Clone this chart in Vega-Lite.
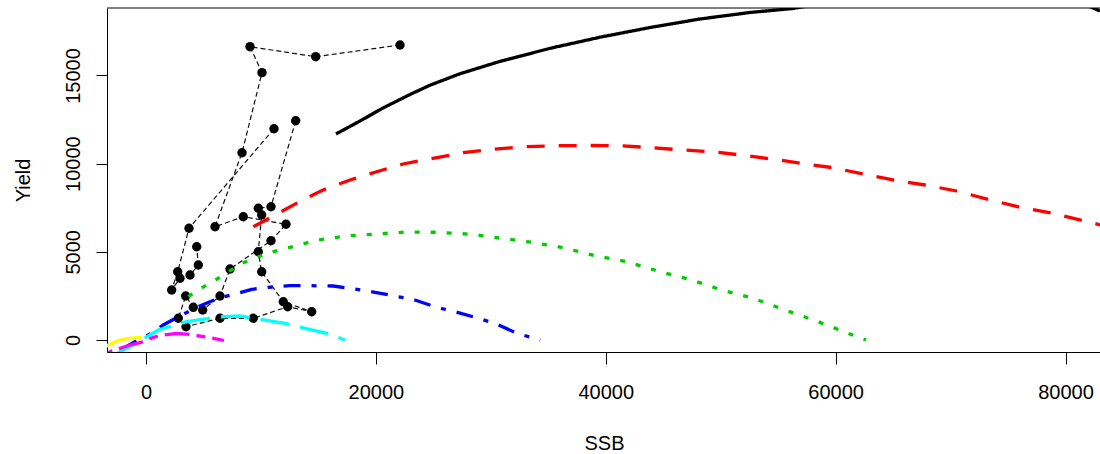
{
  "$schema": "https://vega.github.io/schema/vega-lite/v6.json",
  "width": 993,
  "height": 344,
  "autosize": {"type": "none"},
  "padding": {"left": 107, "top": 8, "right": 0, "bottom": 102},
  "background": "white",
  "config": {
    "view": {"stroke": null},
    "font": "Liberation Sans",
    "axis": {
      "grid": false,
      "domainColor": "#000000",
      "domainWidth": 1,
      "tickColor": "#000000",
      "tickWidth": 1,
      "labelColor": "#000000",
      "titleColor": "#000000",
      "labelFont": "Liberation Sans",
      "titleFont": "Liberation Sans",
      "labelFontSize": 20,
      "titleFontSize": 20,
      "titleFontWeight": "normal",
      "labelFlush": false,
      "labelOverlap": false
    }
  },
  "datasets": {
    "pts": [
      {"g": "a", "o": 1, "ssb": 22100, "yield": 16730},
      {"g": "a", "o": 2, "ssb": 14764, "yield": 16066},
      {"g": "a", "o": 3, "ssb": 9048, "yield": 16633},
      {"g": "a", "o": 4, "ssb": 10092, "yield": 15159},
      {"g": "a", "o": 5, "ssb": 8352, "yield": 10622},
      {"g": "a", "o": 6, "ssb": 6003, "yield": 6425},
      {"g": "a", "o": 7, "ssb": 8465, "yield": 6992},
      {"g": "a", "o": 8, "ssb": 12180, "yield": 6561},
      {"g": "a", "o": 9, "ssb": 10875, "yield": 5631},
      {"g": "a", "o": 10, "ssb": 7308, "yield": 4026},
      {"g": "a", "o": 11, "ssb": 6438, "yield": 2495},
      {"g": "a", "o": 12, "ssb": 4933, "yield": 1701},
      {"g": "b", "o": 1, "ssb": 11136, "yield": 11983},
      {"g": "b", "o": 2, "ssb": 3741, "yield": 6335},
      {"g": "b", "o": 3, "ssb": 2758, "yield": 3873},
      {"g": "b", "o": 4, "ssb": 2236, "yield": 2836},
      {"g": "b", "o": 5, "ssb": 2958, "yield": 3499},
      {"g": "b", "o": 6, "ssb": 3828, "yield": 3686},
      {"g": "b", "o": 7, "ssb": 4550, "yield": 4253},
      {"g": "b", "o": 8, "ssb": 4411, "yield": 5291},
      {"g": "c", "o": 1, "ssb": 13024, "yield": 12436},
      {"g": "c", "o": 2, "ssb": 10875, "yield": 7559},
      {"g": "c", "o": 3, "ssb": 9770, "yield": 7469},
      {"g": "c", "o": 4, "ssb": 10066, "yield": 7089},
      {"g": "c", "o": 5, "ssb": 9770, "yield": 5008},
      {"g": "c", "o": 6, "ssb": 10066, "yield": 3873},
      {"g": "c", "o": 7, "ssb": 11945, "yield": 2172},
      {"g": "c", "o": 8, "ssb": 14416, "yield": 1605},
      {"g": "c", "o": 9, "ssb": 12328, "yield": 1888},
      {"g": "c", "o": 10, "ssb": 9335, "yield": 1231},
      {"g": "c", "o": 11, "ssb": 6438, "yield": 1231},
      {"g": "c", "o": 12, "ssb": 3480, "yield": 754},
      {"g": "c", "o": 13, "ssb": 2810, "yield": 1231},
      {"g": "c", "o": 14, "ssb": 3454, "yield": 2495},
      {"g": "c", "o": 15, "ssb": 4115, "yield": 1854}
    ],
    "curves": [
      {"c": "k", "o": 1, "ssb": 16530, "yield": 11682},
      {"c": "k", "o": 2, "ssb": 18618, "yield": 12419},
      {"c": "k", "o": 3, "ssb": 20619, "yield": 13157},
      {"c": "k", "o": 4, "ssb": 22968, "yield": 13922},
      {"c": "k", "o": 5, "ssb": 24708, "yield": 14450},
      {"c": "k", "o": 6, "ssb": 27318, "yield": 15100},
      {"c": "k", "o": 7, "ssb": 30798, "yield": 15800},
      {"c": "k", "o": 8, "ssb": 35148, "yield": 16540},
      {"c": "k", "o": 9, "ssb": 39498, "yield": 17170},
      {"c": "k", "o": 10, "ssb": 43848, "yield": 17720},
      {"c": "k", "o": 11, "ssb": 48198, "yield": 18204},
      {"c": "k", "o": 12, "ssb": 52548, "yield": 18573},
      {"c": "k", "o": 13, "ssb": 56289, "yield": 18800},
      {"c": "k", "o": 14, "ssb": 58900, "yield": 19100},
      {"c": "k", "o": 15, "ssb": 65700, "yield": 19500},
      {"c": "k", "o": 16, "ssb": 74400, "yield": 19600},
      {"c": "k", "o": 17, "ssb": 81200, "yield": 19168},
      {"c": "k", "o": 18, "ssb": 83000, "yield": 18658},
      {"c": "r", "o": 1, "ssb": 9335, "yield": 6425},
      {"c": "r", "o": 2, "ssb": 11510, "yield": 7185},
      {"c": "r", "o": 3, "ssb": 13546, "yield": 7911},
      {"c": "r", "o": 4, "ssb": 15399, "yield": 8507},
      {"c": "r", "o": 5, "ssb": 17748, "yield": 9074},
      {"c": "r", "o": 6, "ssb": 20071, "yield": 9544},
      {"c": "r", "o": 7, "ssb": 22359, "yield": 9981},
      {"c": "r", "o": 8, "ssb": 24969, "yield": 10304},
      {"c": "r", "o": 9, "ssb": 27579, "yield": 10622},
      {"c": "r", "o": 10, "ssb": 30189, "yield": 10815},
      {"c": "r", "o": 11, "ssb": 32973, "yield": 10962},
      {"c": "r", "o": 12, "ssb": 35731, "yield": 11019},
      {"c": "r", "o": 13, "ssb": 38454, "yield": 11030},
      {"c": "r", "o": 14, "ssb": 41238, "yield": 11019},
      {"c": "r", "o": 15, "ssb": 43996, "yield": 10905},
      {"c": "r", "o": 16, "ssb": 46719, "yield": 10775},
      {"c": "r", "o": 17, "ssb": 49503, "yield": 10661},
      {"c": "r", "o": 18, "ssb": 52113, "yield": 10463},
      {"c": "r", "o": 19, "ssb": 54871, "yield": 10225},
      {"c": "r", "o": 20, "ssb": 57333, "yield": 9981},
      {"c": "r", "o": 21, "ssb": 59769, "yield": 9771},
      {"c": "r", "o": 22, "ssb": 62379, "yield": 9414},
      {"c": "r", "o": 23, "ssb": 64989, "yield": 9074},
      {"c": "r", "o": 24, "ssb": 67773, "yield": 8790},
      {"c": "r", "o": 25, "ssb": 70531, "yield": 8450},
      {"c": "r", "o": 26, "ssb": 73254, "yield": 7979},
      {"c": "r", "o": 27, "ssb": 76038, "yield": 7525},
      {"c": "r", "o": 28, "ssb": 78909, "yield": 7185},
      {"c": "r", "o": 29, "ssb": 81841, "yield": 6709},
      {"c": "r", "o": 30, "ssb": 83433, "yield": 6465},
      {"c": "g", "o": 1, "ssb": 3680, "yield": 2456},
      {"c": "g", "o": 2, "ssb": 4550, "yield": 2836},
      {"c": "g", "o": 3, "ssb": 5420, "yield": 3176},
      {"c": "g", "o": 4, "ssb": 6290, "yield": 3499},
      {"c": "g", "o": 5, "ssb": 8326, "yield": 4350},
      {"c": "g", "o": 6, "ssb": 9483, "yield": 4633},
      {"c": "g", "o": 7, "ssb": 10501, "yield": 4917},
      {"c": "g", "o": 8, "ssb": 11658, "yield": 5104},
      {"c": "g", "o": 9, "ssb": 13833, "yield": 5484},
      {"c": "g", "o": 10, "ssb": 14990, "yield": 5671},
      {"c": "g", "o": 11, "ssb": 17461, "yield": 5898},
      {"c": "g", "o": 12, "ssb": 20071, "yield": 6011},
      {"c": "g", "o": 13, "ssb": 22681, "yield": 6125},
      {"c": "g", "o": 14, "ssb": 25404, "yield": 6108},
      {"c": "g", "o": 15, "ssb": 28336, "yield": 5994},
      {"c": "g", "o": 16, "ssb": 30946, "yield": 5767},
      {"c": "g", "o": 17, "ssb": 33556, "yield": 5541},
      {"c": "g", "o": 18, "ssb": 36305, "yield": 5234},
      {"c": "g", "o": 19, "ssb": 39063, "yield": 4781},
      {"c": "g", "o": 20, "ssb": 41821, "yield": 4440},
      {"c": "g", "o": 21, "ssb": 44718, "yield": 3873},
      {"c": "g", "o": 22, "ssb": 47476, "yield": 3403},
      {"c": "g", "o": 23, "ssb": 50086, "yield": 2836},
      {"c": "g", "o": 24, "ssb": 52837, "yield": 2365},
      {"c": "g", "o": 25, "ssb": 55593, "yield": 1701},
      {"c": "g", "o": 26, "ssb": 58490, "yield": 1038},
      {"c": "g", "o": 27, "ssb": 61248, "yield": 340},
      {"c": "g", "o": 28, "ssb": 62640, "yield": 0},
      {"c": "b", "o": 1, "ssb": -3132, "yield": -1134},
      {"c": "b", "o": 2, "ssb": -2262, "yield": -567},
      {"c": "b", "o": 3, "ssb": -957, "yield": -96},
      {"c": "b", "o": 4, "ssb": 348, "yield": 340},
      {"c": "b", "o": 5, "ssb": 1505, "yield": 851},
      {"c": "b", "o": 6, "ssb": 2375, "yield": 1163},
      {"c": "b", "o": 7, "ssb": 3680, "yield": 1605},
      {"c": "b", "o": 8, "ssb": 4550, "yield": 1888},
      {"c": "b", "o": 9, "ssb": 6290, "yield": 2365},
      {"c": "b", "o": 10, "ssb": 7743, "yield": 2609},
      {"c": "b", "o": 11, "ssb": 9196, "yield": 2875},
      {"c": "b", "o": 12, "ssb": 10640, "yield": 2989},
      {"c": "b", "o": 13, "ssb": 12528, "yield": 3079},
      {"c": "b", "o": 14, "ssb": 14416, "yield": 3079},
      {"c": "b", "o": 15, "ssb": 16295, "yield": 3062},
      {"c": "b", "o": 16, "ssb": 18183, "yield": 2892},
      {"c": "b", "o": 17, "ssb": 19923, "yield": 2705},
      {"c": "b", "o": 18, "ssb": 21515, "yield": 2512},
      {"c": "b", "o": 19, "ssb": 23403, "yield": 2268},
      {"c": "b", "o": 20, "ssb": 25291, "yield": 1854},
      {"c": "b", "o": 21, "ssb": 26883, "yield": 1605},
      {"c": "b", "o": 22, "ssb": 28623, "yield": 1287},
      {"c": "b", "o": 23, "ssb": 30511, "yield": 907},
      {"c": "b", "o": 24, "ssb": 32251, "yield": 380},
      {"c": "b", "o": 25, "ssb": 34300, "yield": 0},
      {"c": "c", "o": 1, "ssb": -3132, "yield": -1021},
      {"c": "c", "o": 2, "ssb": -2262, "yield": -663},
      {"c": "c", "o": 3, "ssb": -1105, "yield": -284},
      {"c": "c", "o": 4, "ssb": 348, "yield": 284},
      {"c": "c", "o": 5, "ssb": 1070, "yield": 567},
      {"c": "c", "o": 6, "ssb": 2523, "yield": 851},
      {"c": "c", "o": 7, "ssb": 3541, "yield": 1038},
      {"c": "c", "o": 8, "ssb": 5568, "yield": 1231},
      {"c": "c", "o": 9, "ssb": 6725, "yield": 1321},
      {"c": "c", "o": 10, "ssb": 8178, "yield": 1361},
      {"c": "c", "o": 11, "ssb": 10353, "yield": 1134},
      {"c": "c", "o": 12, "ssb": 12093, "yield": 947},
      {"c": "c", "o": 13, "ssb": 13833, "yield": 663},
      {"c": "c", "o": 14, "ssb": 15721, "yield": 380},
      {"c": "c", "o": 15, "ssb": 17313, "yield": 0},
      {"c": "m", "o": 1, "ssb": -3567, "yield": -907},
      {"c": "m", "o": 2, "ssb": -3132, "yield": -663},
      {"c": "m", "o": 3, "ssb": -2262, "yield": -471},
      {"c": "m", "o": 4, "ssb": -1392, "yield": -284},
      {"c": "m", "o": 5, "ssb": -235, "yield": -96},
      {"c": "m", "o": 6, "ssb": 635, "yield": 153},
      {"c": "m", "o": 7, "ssb": 1505, "yield": 284},
      {"c": "m", "o": 8, "ssb": 2671, "yield": 380},
      {"c": "m", "o": 9, "ssb": 3828, "yield": 323},
      {"c": "m", "o": 10, "ssb": 4698, "yield": 227},
      {"c": "m", "o": 11, "ssb": 6290, "yield": 40},
      {"c": "m", "o": 12, "ssb": 6786, "yield": -28},
      {"c": "y", "o": 1, "ssb": -4002, "yield": -567},
      {"c": "y", "o": 2, "ssb": -3279, "yield": -284},
      {"c": "y", "o": 3, "ssb": -2262, "yield": 0},
      {"c": "y", "o": 4, "ssb": -1392, "yield": 96},
      {"c": "y", "o": 5, "ssb": -374, "yield": 153}
    ],
    "top": [{"yield": 18827}]
  },
  "layer": [
    {
      "data": {"name": "pts"},
      "mark": {"type": "line", "color": "#111111", "strokeWidth": 1.2, "strokeDash": [5, 3], "clip": true},
      "encoding": {
        "x": {"field": "ssb", "type": "quantitative", "scale": {"domain": [-3393, 82998], "nice": false, "zero": false},
          "axis": {"values": [0, 20000, 40000, 60000, 80000], "format": "d", "tickSize": 12, "labelPadding": 18, "labelBaseline": "top", "title": "SSB", "titleX": 497, "titleY": 91, "titleBaseline": "middle", "titleAlign": "center", "titleAngle": 0}},
        "y": {"field": "yield", "type": "quantitative", "scale": {"domain": [-680, 18827], "nice": false, "zero": false},
          "axis": {"values": [0, 5000, 10000, 15000], "format": "d", "tickSize": 11, "labelAngle": 270, "labelAlign": "center", "labelBaseline": "middle", "labelPadding": 23, "title": "Yield", "titleAngle": 270, "titleX": -84, "titleY": 172, "titleBaseline": "middle", "titleAlign": "center"}},
        "detail": {"field": "g"},
        "order": {"field": "o", "type": "quantitative"}
      }
    },
    {
      "data": {"name": "pts"},
      "mark": {"type": "circle", "color": "#000000", "opacity": 1, "size": 88},
      "encoding": {
        "x": {"field": "ssb", "type": "quantitative", "scale": {"domain": [-3393, 82998], "nice": false, "zero": false}},
        "y": {"field": "yield", "type": "quantitative", "scale": {"domain": [-680, 18827], "nice": false, "zero": false}}
      }
    },
    {
      "data": {"name": "curves"},
      "mark": {"type": "line", "strokeWidth": 3.3, "strokeCap": "butt", "clip": true},
      "encoding": {
        "x": {"field": "ssb", "type": "quantitative", "scale": {"domain": [-3393, 82998], "nice": false, "zero": false}},
        "y": {"field": "yield", "type": "quantitative", "scale": {"domain": [-680, 18827], "nice": false, "zero": false}},
        "color": {"field": "c", "type": "nominal", "legend": null,
          "scale": {"domain": ["k", "r", "g", "b", "c", "m", "y"], "range": ["#000000", "#FF0000", "#00CD00", "#0000FF", "#00FFFF", "#FF00FF", "#FFFF00"]}},
        "strokeDash": {"field": "c", "type": "nominal", "legend": null,
          "scale": {"domain": ["k", "r", "g", "b", "c", "m", "y"], "range": [[1, 0], [18, 14], [5, 11], [5, 11, 17, 11], [29, 11], [9, 7, 25, 7], [1, 0]]}},
        "order": {"field": "o", "type": "quantitative"}
      }
    },
    {
      "data": {"name": "top"},
      "mark": {"type": "rule", "color": "#000000", "strokeWidth": 1},
      "encoding": {
        "y": {"field": "yield", "type": "quantitative", "scale": {"domain": [-680, 18827], "nice": false, "zero": false}}
      }
    }
  ]
}
